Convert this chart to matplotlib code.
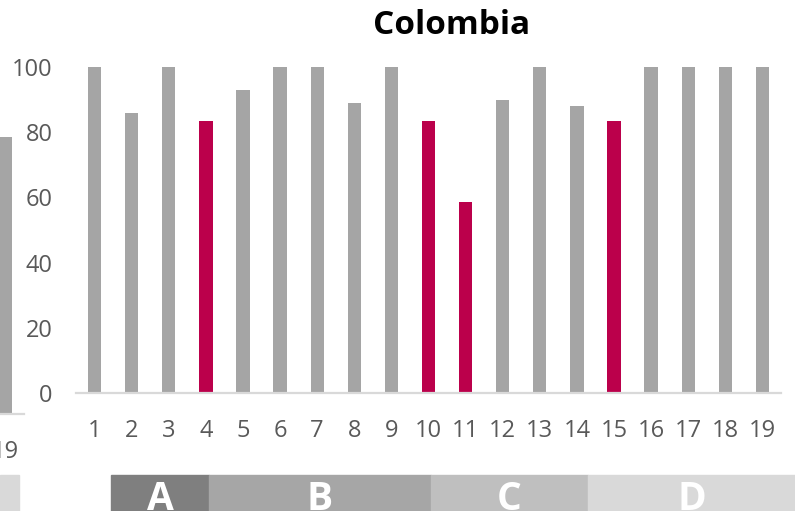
import matplotlib.pyplot as plt
from matplotlib.patches import Rectangle

# chart data
labels = [str(i) for i in range(1, 20)]
values = [100, 86, 100, 83.5, 93, 100, 100, 89, 100, 83.5, 58.5, 90, 100, 88, 83.5, 100, 100, 100, 100]
highlight = [4, 10, 11, 15]
prev_last_value = 85  # last bar of the neighbouring panel
groups = ['A', 'B', 'C', 'D']
group_edges = [111, 209, 431, 588, 795]  # pixel edges of the group strip
group_colors = ['#7f7f7f', '#a6a6a6', '#bfbfbf', '#d9d9d9']

W, H = 795, 511
GRAY = '#a5a5a5'
RED = '#bb004b'
TXT = '#595959'
plt.rcParams['font.family'] = ['Open Sans', 'DejaVu Sans']

fig = plt.figure(figsize=(W / 100, H / 100), dpi=100)


def px_box(x0, y_top, w, h):
    """Convert a pixel box (top-left origin) to figure fractions."""
    return [x0 / W, (H - y_top - h) / H, w / W, h / H]


def style_axes(ax):
    for s in ['top', 'right', 'left']:
        ax.spines[s].set_visible(False)
    ax.spines['bottom'].set_color('#d9d9d9')
    ax.spines['bottom'].set_linewidth(1.6)
    ax.tick_params(axis='both', length=0, colors=TXT, labelsize=17)
    ax.tick_params(axis='x', pad=18.5)
    ax.tick_params(axis='y', pad=17)


# main panel
ax = fig.add_axes(px_box(76, 67, 705, 326))
xs = list(range(1, 20))
colors = [RED if x in highlight else GRAY for x in xs]
ax.bar(xs, values, width=0.36, color=colors, zorder=2)
ax.set_xlim(0.5, 19.5)
ax.set_ylim(0, 100)
ax.set_xticks(xs)
ax.set_xticklabels(labels)
ax.set_yticks([0, 20, 40, 60, 80, 100])
style_axes(ax)
fig.text(452 / W, 1 - 26 / H, 'Colombia', ha='center', va='center',
         fontsize=24, fontweight='bold', color='black')

# neighbouring panel, mostly off the left edge
ax2 = fig.add_axes(px_box(24 - 705, 88, 705, 326))
ax2.bar([19], [prev_last_value], width=0.36, color=GRAY)
ax2.set_xlim(0.5, 19.5)
ax2.set_ylim(0, 100)
ax2.set_xticks([19])
ax2.set_xticklabels(['19'])
ax2.set_yticks([])
style_axes(ax2)

# group strip along the bottom
fig.patches.append(Rectangle((0, 0), 19 / W, 36 / H, transform=fig.transFigure,
                             color='#d9d9d9', zorder=0))
for i, g in enumerate(groups):
    x0, x1 = group_edges[i], group_edges[i + 1]
    fig.patches.append(Rectangle((x0 / W, 0), (x1 - x0) / W, 36 / H,
                                 transform=fig.transFigure,
                                 color=group_colors[i], zorder=0))
    fig.text((x0 + x1) / 2 / W, 1 - 510 / H, g, ha='center', va='baseline',
             fontsize=28, fontweight='bold', color='white')

fig.savefig('out.png', dpi=100)
